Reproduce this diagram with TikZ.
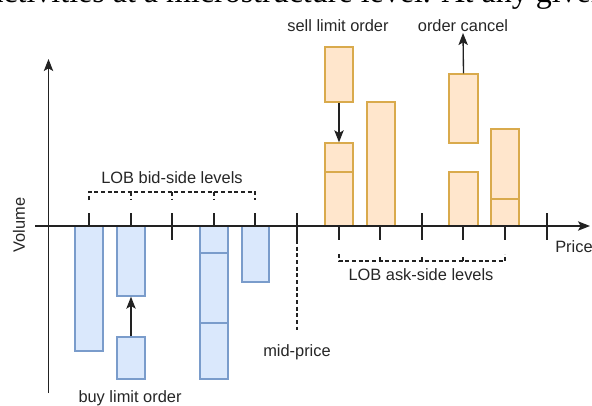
\documentclass[tikz,border=0pt]{standalone}
\usepackage{fontspec}
\setmainfont{Liberation Sans}
\newfontfamily\paperfont{Liberation Serif}
\usetikzlibrary{arrows.meta,fit}
\definecolor{bidfill}{HTML}{DAE8FC}
\definecolor{biddraw}{HTML}{7A9CCB}
\definecolor{askfill}{HTML}{FFE6CC}
\definecolor{askdraw}{HTML}{D9AA4C}
\definecolor{axiscol}{HTML}{222222}
\tikzset{
  bidbar/.style={draw=biddraw, fill=bidfill, line width=1pt, inner sep=0pt},
  askbar/.style={draw=askdraw, fill=askfill, line width=1pt, inner sep=0pt},
  bidline/.style={draw=biddraw, line width=1pt},
  askline/.style={draw=askdraw, line width=1pt},
  axisline/.style={draw=axiscol, line width=1pt},
  tickline/.style={draw=axiscol, line width=1pt},
  bracketline/.style={draw=axiscol, line width=1pt, dash pattern=on 3pt off 2pt},
  orderarrow/.style={draw=axiscol, line width=1pt, -{Stealth[length=9pt,width=7pt,inset=2pt]}},
  lbl/.style={font=\fontsize{12.3}{14}\selectfont, text=black!85, inner sep=0pt},
}
\begin{document}
\begin{tikzpicture}[x=0.75pt,y=-0.75pt]
\useasboundingbox (0,0) rectangle (592,405);
\fill[white] (0,0) rectangle (592,405);
% cropped line of the surrounding text
\begin{scope}
\clip (0,0) rectangle (592,405);
\node[anchor=base west, inner sep=0pt, font=\paperfont\fontsize{24}{26}\selectfont] (papertext) at (-11,2) {activities at a microstructure level. At any given};
\end{scope}
% axes
\coordinate (xs) at (35,226);
\coordinate (xe) at (590,226);
\coordinate (ys) at (48.5,393);
\coordinate (ye) at (48.5,59);
\draw[axisline, -{Stealth[length=9pt,width=7pt,inset=2pt]}] (xs) -- (xe);
\draw[axisline, -{Stealth[length=9pt,width=7pt,inset=2pt]}] (ys) -- (ye);
% bid bars
\node[bidbar, fit={(75,226)(103,351)}] (b1) {};
\node[bidbar, fit={(117,226)(145,296)}] (b2) {};
\node[bidbar, fit={(117,337)(145,379)}] (b2new) {};
\node[bidbar, fit={(200,226)(228,379)}] (b4) {};
\draw[bidline] (b4.west |- 0,253) -- (b4.east |- 0,253);
\draw[bidline] (b4.west |- 0,323) -- (b4.east |- 0,323);
\node[bidbar, fit={(242,226)(269,282)}] (b5) {};
% ask bars
\node[askbar, fit={(325,143)(353,226)}] (a1) {};
\draw[askline] (a1.west |- 0,172) -- (a1.east |- 0,172);
\node[askbar, fit={(325,47)(353,102)}] (a1new) {};
\node[askbar, fit={(367,102)(395,226)}] (a2) {};
\node[askbar, fit={(449,74)(478,143)}] (a4old) {};
\node[askbar, fit={(449,172)(478,226)}] (a4) {};
\node[askbar, fit={(491,129)(519,226)}] (a5) {};
\draw[askline] (a5.west |- 0,199) -- (a5.east |- 0,199);
% redraw axis over bar bottoms
\draw[axisline] (60,226) -- (575,226);
% small ticks
\foreach \x in {89,131,214,255} \draw[tickline] (\x,226) -- (\x,213);
\foreach \x in {339,380,463,505} \draw[tickline] (\x,226) -- (\x,240);
\foreach \x in {172,297,422,547} \draw[tickline] (\x,213) -- (\x,240);
% brackets
\draw[bracketline] (89,200) -- (89,192) -- (255,192) -- (255,200);
\foreach \x in {131,172,214} \draw[bracketline] (\x,192) -- (\x,199);
\draw[bracketline] (339,254) -- (339,261) -- (505,261) -- (505,254);
\foreach \x in {380,422,463} \draw[bracketline] (\x,261) -- (\x,255);
% mid-price
\coordinate (midtop) at (297,240);
\node[lbl] (midlab) at (297,352) {mid-price};
\draw[bracketline] (midtop) -- (297,330);
% labels
\node[lbl] (bidlab) at (172,178) {LOB bid-side levels};
\node[lbl] (asklab) at (421,275) {LOB ask-side levels};
\node[lbl, anchor=west] (pricelab) at (555,247) {Price};
\node[lbl, rotate=90] (vollab) at (19,225) {Volume};
\node[lbl] (buylab) at (130,398) {buy limit order};
\node[lbl] (selllab) at (338,25.5) {sell limit order};
\node[lbl] (cancellab) at (463,25.5) {order cancel};
% order arrows
\draw[orderarrow] (b2new.north) -- (b2.south);
\draw[orderarrow] (a1new.south) -- (a1.north);
\draw[orderarrow] (a4old.north) -- (463,33);
\end{tikzpicture}
\end{document}
